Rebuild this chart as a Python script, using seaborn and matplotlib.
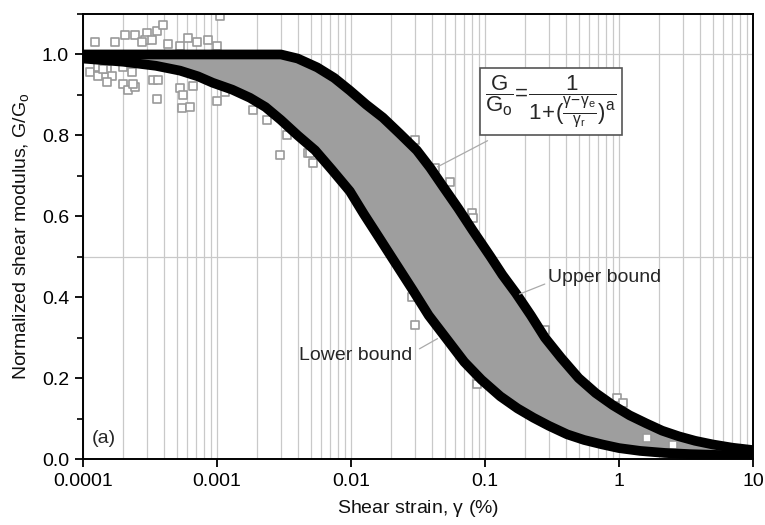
import numpy as np
import pandas as pd
import matplotlib
matplotlib.use("Agg")
import matplotlib.pyplot as plt
import seaborn as sns
from matplotlib.ticker import FixedLocator, LogLocator, MultipleLocator, NullFormatter

# ---- data ----
upper_strain = [1e-4, 1e-3, 3.0e-3, 4.0e-3, 5.6e-3, 7.5e-3, 9.8e-3, 1.3e-2, 1.73e-2, 2.3e-2,
                3.1e-2, 3.9e-2, 4.9e-2, 6.3e-2, 8.1e-2, 1.1e-1, 1.35e-1, 1.7e-1, 2.2e-1,
                2.8e-1, 3.7e-1, 5.0e-1, 6.7e-1, 9.0e-1, 1.2, 1.6, 2.1, 2.8, 3.7, 5.0, 7.0, 10.0]
upper_g = [1.0, 1.0, 1.0, 0.99, 0.968, 0.942, 0.911, 0.876, 0.844, 0.805,
           0.763, 0.72, 0.672, 0.62, 0.565, 0.50, 0.455, 0.41, 0.355,
           0.30, 0.25, 0.20, 0.163, 0.133, 0.108, 0.088, 0.07, 0.056, 0.045, 0.036, 0.028, 0.022]

lower_strain = [1e-4, 2e-4, 3.5e-4, 5.3e-4, 7.2e-4, 9.3e-4, 1.3e-3, 1.76e-3, 2.3e-3, 3.0e-3,
                4.0e-3, 5.4e-3, 7.2e-3, 9.8e-3, 1.25e-2, 1.6e-2, 2.0e-2, 2.9e-2, 3.8e-2,
                5.2e-2, 7.0e-2, 9.4e-2, 1.3e-1, 1.75e-1, 2.3e-1, 3.0e-1, 4.1e-1, 5.5e-1,
                7.5e-1, 1.0, 1.44, 2.2, 3.4, 5.5, 10.0]
lower_g = [0.99, 0.982, 0.972, 0.96, 0.946, 0.93, 0.913, 0.893, 0.87, 0.838,
           0.80, 0.763, 0.715, 0.662, 0.605, 0.55, 0.50, 0.417, 0.355,
           0.296, 0.24, 0.196, 0.155, 0.125, 0.102, 0.082, 0.061, 0.047,
           0.036, 0.027, 0.02, 0.015, 0.012, 0.010, 0.009]

scatter_strain = [1.23e-4, 1.73e-4, 2.06e-4, 2.44e-4, 3.00e-4, 3.57e-4, 3.95e-4, 2.90e-4,
                  2.75e-4, 3.27e-4, 4.31e-4, 5.30e-4, 6.08e-4, 7.10e-4, 8.58e-4, 1.0e-3,
                  1.13e-4, 1.29e-4, 1.51e-4, 1.64e-4, 1.51e-4, 1.99e-4, 2.17e-4, 2.44e-4,
                  2.36e-4, 3.33e-4, 3.63e-4, 3.57e-4, 5.30e-4, 5.57e-4, 5.48e-4, 6.29e-4,
                  6.62e-4, 1.0e-3, 1.15e-3, 1.86e-3, 2.36e-3, 2.95e-3, 3.33e-3, 4.78e-3,
                  5.20e-3, 1.99e-4, 2.32e-4, 1.29e-4, 1.41e-4, 1.05e-3, 4.94e-3,
                  3.006e-2, 4.24e-2, 5.48e-2, 8.00e-2, 8.13e-2, 3.006e-2, 2.85e-2,
                  8.71e-2, 0.280, 0.966, 1.07, 1.62, 2.53]
scatter_g = [1.030, 1.032, 1.047, 1.047, 1.052, 1.059, 1.072, 1.035,
             1.030, 1.035, 1.025, 1.022, 1.040, 1.030, 1.035, 1.022,
             0.956, 0.948, 0.965, 0.948, 0.931, 0.928, 0.911, 0.919,
             0.928, 0.936, 0.938, 0.891, 0.916, 0.899, 0.867, 0.869,
             0.923, 0.886, 0.906, 0.862, 0.837, 0.751, 0.800, 0.756,
             0.731, 0.968, 0.956, 0.968, 0.965, 1.096, 0.756,
             0.788, 0.719, 0.684, 0.607, 0.595, 0.331, 0.400,
             0.185, 0.319, 0.151, 0.138, 0.052, 0.035]

x_ticks = [0.0001, 0.001, 0.01, 0.1, 1, 10]
x_tick_labels = ["0.0001", "0.001", "0.01", "0.1", "1", "10"]
y_ticks = [0.0, 0.2, 0.4, 0.6, 0.8, 1.0]
y_tick_labels = ["0.0", "0.2", "0.4", "0.6", "0.8", "1.0"]

# ---- style ----
sns.set_theme(style="ticks")
plt.rcParams["font.family"] = ["Liberation Sans", "DejaVu Sans"]
plt.rcParams["mathtext.fontset"] = "custom"
plt.rcParams["mathtext.rm"] = "Liberation Sans"
plt.rcParams["mathtext.it"] = "Liberation Sans"
plt.rcParams["mathtext.bf"] = "Liberation Sans:bold"
plt.rcParams["mathtext.sf"] = "Liberation Sans"

FS = 14
fig = plt.figure(figsize=(7.65, 5.25), dpi=100)
ax = fig.add_axes([0.1085, 0.1257, 0.8758, 0.8476])
ax.set_xscale("log")
ax.set_xlim(1e-4, 10)
ax.set_ylim(0, 1.1)

grid_c = "#c9c9c9"
ax.xaxis.set_major_locator(FixedLocator(x_ticks))
ax.xaxis.set_minor_locator(LogLocator(base=10, subs=np.arange(2, 10)))
ax.xaxis.set_minor_formatter(NullFormatter())
ax.grid(True, which="both", axis="x", color=grid_c, lw=0.9, zorder=0)
ax.set_axisbelow(True)
for yv in (0.5, 1.0):
    ax.axhline(yv, color=grid_c, lw=0.9, zorder=0)

# band fill between bounds (dense data cloud)
poly_x = np.r_[upper_strain, lower_strain[::-1]]
poly_y = np.r_[upper_g, lower_g[::-1]]
ax.fill(poly_x, poly_y, color="#9e9e9e", lw=0, zorder=1)

# scattered data points
sns.scatterplot(x=scatter_strain, y=scatter_g, marker="s", s=28, facecolor="white",
                edgecolor="#9a9a9a", linewidth=1.2, ax=ax, zorder=2, legend=False)

# bounds
for xs, ys in ((upper_strain, upper_g), (lower_strain, lower_g)):
    sns.lineplot(x=xs, y=ys, color="black", lw=7, estimator=None, sort=False,
                 ax=ax, zorder=3, legend=False, solid_capstyle="round",
                 solid_joinstyle="round")

ax.set_xticks(x_ticks)
ax.set_xticklabels(x_tick_labels, fontsize=FS)
ax.set_yticks(y_ticks)
ax.set_yticklabels(y_tick_labels, fontsize=FS)
ax.yaxis.set_minor_locator(MultipleLocator(0.1))
ax.tick_params(axis="both", which="major", direction="out", length=6, width=1.3,
               color="black", labelcolor="black", pad=4)
ax.tick_params(axis="y", which="minor", direction="out", length=4, width=1.2, color="black")
ax.tick_params(axis="x", which="minor", length=0)

for sp in ax.spines.values():
    sp.set_visible(True)
    sp.set_color("black")
    sp.set_linewidth(1.4)

ax.set_xlabel(r"Shear strain, $\gamma$ (%)", fontsize=FS, color="#111111", labelpad=6)
ax.set_ylabel(r"Normalized shear modulus, G/G$_\mathregular{o}$", fontsize=FS,
              color="#111111", labelpad=8)

ax.text(0.013, 0.047, "(a)", transform=ax.transAxes, fontsize=FS, ha="left", va="center")

formula = (r"$\dfrac{G}{G_o}\!=\!\dfrac{1}{1\!+\!(\frac{\gamma\!-\!\gamma_e}"
           r"{\gamma_r})^a}$")
ax.text(0.311, 0.884, formula, fontsize=16, ha="center", va="center", zorder=5,
        bbox=dict(boxstyle="square,pad=0.25", fc="white", ec="#555555", lw=1.2))
ax.annotate("", xy=(0.0424, 0.719), xytext=(0.109, 0.79),
            arrowprops=dict(arrowstyle="-", color="#aaaaaa", lw=0.9), zorder=4)

ax.text(0.295, 0.449, "Upper bound", fontsize=FS, ha="left", va="center", zorder=5)
ax.annotate("", xy=(0.173, 0.405), xytext=(0.292, 0.435),
            arrowprops=dict(arrowstyle="-", color="#aaaaaa", lw=0.9), zorder=4)
ax.text(0.0285, 0.257, "Lower bound", fontsize=FS, ha="right", va="center", zorder=5)
ax.annotate("", xy=(0.0461, 0.301), xytext=(0.0311, 0.269),
            arrowprops=dict(arrowstyle="-", color="#aaaaaa", lw=0.9), zorder=4)

fig.savefig("out.png", dpi=100)
